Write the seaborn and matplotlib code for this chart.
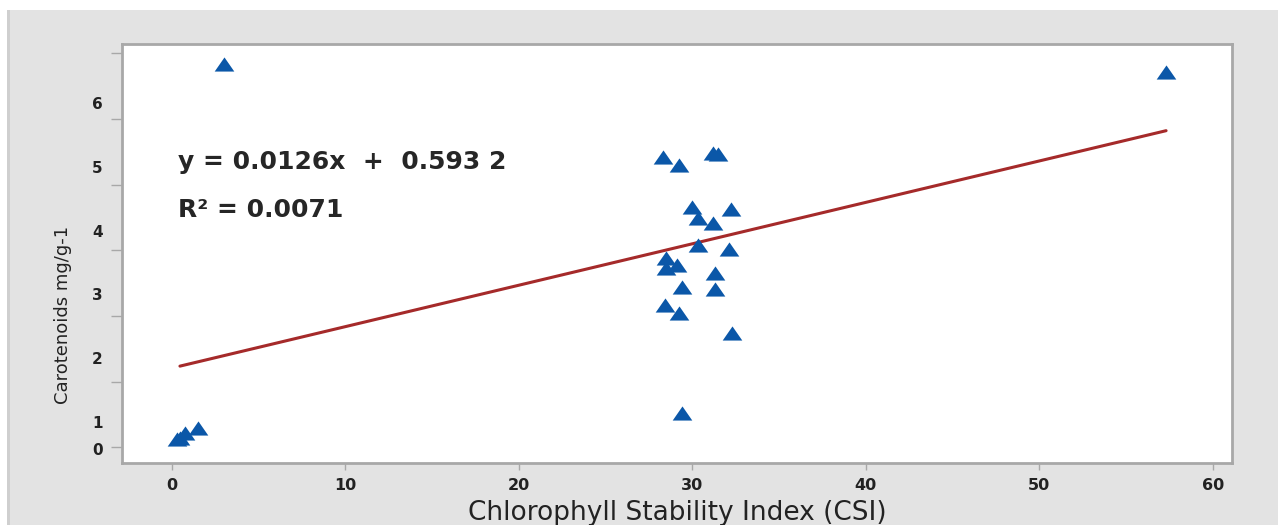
import matplotlib
matplotlib.use("Agg")
import matplotlib.pyplot as plt
from matplotlib.path import Path
from matplotlib.patches import Rectangle
import seaborn as sns
import pandas as pd

# Chlorophyll stability index vs carotenoid content
csi = [3.0, 57.3, 28.3, 29.2, 31.2, 31.5, 30.0, 30.3, 31.2, 32.2, 30.3, 32.1,
       28.5, 29.1, 28.5, 31.3, 29.4, 31.3, 28.4, 29.2, 32.3, 29.4, 1.5, 0.75,
       0.46, 0.3]
carotenoids = [5.84, 5.72, 4.42, 4.30, 4.48, 4.47, 3.66, 3.49, 3.41, 3.63, 3.08,
               3.02, 2.88, 2.77, 2.73, 2.65, 2.44, 2.41, 2.16, 2.04, 1.74, 0.52,
               0.30, 0.21, 0.14, 0.12]

# Trend line end points
trend_x = [0.46, 57.3]
trend_y = [1.235, 4.82]

x_ticks = [0, 10, 20, 30, 40, 50, 60]
y_ticks = [0, 1, 2, 3, 4, 5, 6]
y_label_pos = [-0.03, 0.38, 1.36, 2.33, 3.29, 4.27, 5.24]
y_tick_labels = ["0", "1", "2", "3", "4", "5", "6"]

equation = "y = 0.0126x  +  0.593 2"
r_squared = "R\u00b2 = 0.0071"

sns.set_theme(style="white")
plt.rcParams["font.family"] = ["DejaVu Sans"]

fig = plt.figure(figsize=(12.78, 5.25), dpi=100, facecolor="white")
# gray panel behind the plot
fig.patches.append(Rectangle((7 / 1278, 0), 1, (525 - 10) / 525,
                             transform=fig.transFigure, facecolor="#e3e3e3",
                             edgecolor="none", zorder=-10))
fig.patches.append(Rectangle((7 / 1278, 0), 3 / 1278, (525 - 10) / 525,
                             transform=fig.transFigure, facecolor="#cfcfcf",
                             edgecolor="none", zorder=-9))

ax = fig.add_axes([122 / 1278, 62 / 525, 1110 / 1278, 419 / 525])
ax.set_facecolor("white")

df = pd.DataFrame({"csi": csi, "car": carotenoids})
tri = Path([(-1, -0.72), (1, -0.72), (0, 0.72), (-1, -0.72)],
           [Path.MOVETO, Path.LINETO, Path.LINETO, Path.CLOSEPOLY])
sns.lineplot(x=trend_x, y=trend_y, ax=ax, color="#a52a2a", linewidth=2.2,
             zorder=2)
sns.scatterplot(data=df, x="csi", y="car", ax=ax, marker=tri, s=200,
                color="#0b57a8", linewidth=0, zorder=3)

ax.set_xlim(-2.88, 61.1)
ax.set_ylim(-0.24, 6.14)

for side in ["left", "right", "top", "bottom"]:
    ax.spines[side].set_visible(True)
    ax.spines[side].set_color("#a8a8a8")
    ax.spines[side].set_linewidth(2)

ax.set_xticks(x_ticks)
ax.set_xticklabels([str(v) for v in x_ticks], fontsize=11.5, fontweight="bold",
                   color="#222222")
ax.tick_params(axis="x", which="major", direction="out", length=5, width=1,
               color="#a8a8a8", pad=6, bottom=True)

ax.set_yticks(y_ticks)
ax.set_yticklabels([""] * len(y_ticks))
ax.tick_params(axis="y", which="major", direction="out", length=8, width=1,
               color="#a8a8a8", left=True)
ax.set_yticks(y_label_pos, minor=True)
ax.set_yticklabels(y_tick_labels, minor=True, fontsize=11, fontweight="bold",
                   color="#222222")
ax.tick_params(axis="y", which="minor", length=0, pad=14, left=True)

ax.set_xlabel("Chlorophyll Stability Index (CSI)", fontsize=19,
              color="#222222", labelpad=5)
ax.set_ylabel("Carotenoids mg/g-1", fontsize=13, color="#222222")
ax.yaxis.set_label_coords(-0.045, 0.353)

ax.text(0.05, 0.718, equation, transform=ax.transAxes, fontsize=18,
        fontweight="bold", color="#262626", va="center", ha="left")
ax.text(0.05, 0.604, r_squared, transform=ax.transAxes, fontsize=18,
        fontweight="bold", color="#262626", va="center", ha="left")

fig.savefig("out.png", dpi=100, facecolor=fig.get_facecolor())
